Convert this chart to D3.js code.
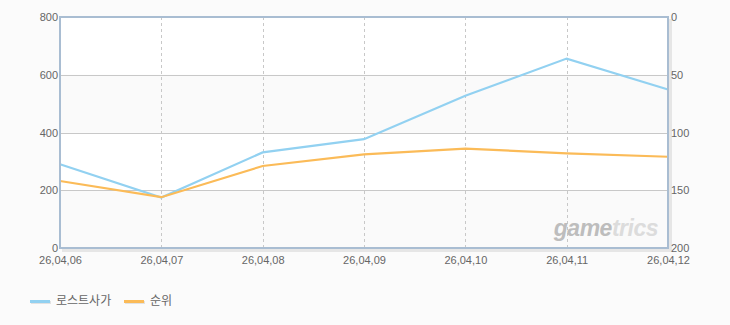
<!DOCTYPE html>
<html lang='ko'>
<head>
   <meta charset='UTF-8'>
   <title>로스트사가 순위</title>
   <script src='https://d3js.org/d3.v7.min.js'></script>
   <style>
      body { margin: 0; background: #fbfbfb; }
      svg { display: block; }
      text { font-family: 'Liberation Sans', Arial, sans-serif; }
   </style>
</head>
<body>
   <div id='chart'></div>
   <script>
      // data
      const dates = ['26,04,06', '26,04,07', '26,04,08', '26,04,09', '26,04,10', '26,04,11', '26,04,12'];
      const gameValues = [290, 175, 331, 377, 527, 656, 549];   // 로스트사가, left axis
      const rankValues = [142, 156, 129, 119, 114, 118, 121];   // 순위, right axis (reversed)
      const leftTicks = [0, 200, 400, 600, 800];
      const rightTicks = [0, 50, 100, 150, 200];
      const seriesNames = ['로스트사가', '순위'];
      const seriesColors = ['#92d1f1', '#fbbb58'];

      const W = 730, H = 325;
      const margins = { top: 17, right: 62, bottom: 77, left: 60 };
      const width = W - margins.left - margins.right;
      const height = H - margins.top - margins.bottom;

      const svg = d3.select('#chart').append('svg').attr('width', W).attr('height', H);
      svg.append('rect').attr('width', W).attr('height', H).attr('fill', '#fbfbfb');

      const g = svg.append('g').attr('transform', `translate(${margins.left}, ${margins.top})`);

      const x = d3.scalePoint().domain(dates).range([0, width]);
      const yL = d3.scaleLinear().domain([0, 800]).range([height, 0]);
      const yR = d3.scaleLinear().domain([0, 200]).range([0, height]);

      // alternating bands
      const bands = d3.pairs(leftTicks);
      g.selectAll('.band').data(bands).join('rect')
         .attr('x', 0)
         .attr('width', width)
         .attr('y', d => yL(d[1]))
         .attr('height', d => yL(d[0]) - yL(d[1]))
         .attr('fill', (d, i) => i % 2 ? '#ffffff' : '#fafafa');

      // shadow right and bottom
      g.append('rect').attr('x', width + 1).attr('y', 2).attr('width', 3).attr('height', height + 1).attr('fill', '#e6e6e6');
      g.append('rect').attr('x', 2).attr('y', height + 1).attr('width', width + 2).attr('height', 3).attr('fill', '#e6e6e6');

      // horizontal grid
      g.selectAll('.hgrid').data(leftTicks.slice(1, -1)).join('line')
         .attr('x1', 0).attr('x2', width)
         .attr('y1', d => Math.round(yL(d)) + 0.5).attr('y2', d => Math.round(yL(d)) + 0.5)
         .attr('stroke', '#c8c8c8');

      // vertical dashed grid
      g.selectAll('.vgrid').data(dates.slice(1, -1)).join('line')
         .attr('x1', d => Math.round(x(d)) + 0.5).attr('x2', d => Math.round(x(d)) + 0.5)
         .attr('y1', 0).attr('y2', height)
         .attr('stroke', '#c8c8c8')
         .attr('stroke-dasharray', '3,3');

      // watermark
      const wm = g.append('text')
         .attr('x', width - 10).attr('y', height - 12)
         .attr('text-anchor', 'end')
         .attr('font-size', '23px')
         .attr('font-weight', 'bold')
         .attr('font-style', 'italic')
         .attr('letter-spacing', '-0.5px');
      wm.append('tspan').attr('fill', '#bdbdbd').text('game');
      wm.append('tspan').attr('fill', '#dcdcdc').text('trics');

      // lines
      const lineL = d3.line().x((d, i) => x(dates[i])).y(d => yL(d));
      const lineR = d3.line().x((d, i) => x(dates[i])).y(d => yR(d));
      g.append('path').datum(gameValues).attr('d', lineL)
         .attr('fill', 'none').attr('stroke', seriesColors[0]).attr('stroke-width', 2.2);
      g.append('path').datum(rankValues).attr('d', lineR)
         .attr('fill', 'none').attr('stroke', seriesColors[1]).attr('stroke-width', 2.2);

      // frame
      g.append('rect').attr('x', 0).attr('y', 0).attr('width', width).attr('height', height)
         .attr('fill', 'none').attr('stroke', '#a9bdd2').attr('stroke-width', 2);

      // axes
      const axisStyle = sel => {
         sel.select('.domain').remove();
         sel.selectAll('.tick line').remove();
         sel.selectAll('text').attr('fill', '#666').attr('font-size', '11px')
            .style('font-family', "'Liberation Sans', Arial, sans-serif");
      };
      g.append('g').call(d3.axisLeft(yL).tickValues(leftTicks).tickSize(0).tickPadding(2)).call(axisStyle);
      g.append('g').attr('transform', `translate(${width}, 0)`)
         .call(d3.axisRight(yR).tickValues(rightTicks).tickSize(0).tickPadding(3)).call(axisStyle);
      g.append('g').attr('transform', `translate(0, ${height})`)
         .call(d3.axisBottom(x).tickSize(0).tickPadding(8)).call(axisStyle);

      // legend
      const legend = svg.append('g').attr('transform', 'translate(30, 301)');
      const items = legend.selectAll('g').data(seriesNames).join('g')
         .attr('transform', (d, i) => `translate(${i * 94}, 0)`);
      items.append('rect').attr('x', 1).attr('y', 0).attr('width', 20).attr('height', 3).attr('fill', '#e2e2e2');
      items.append('rect').attr('x', 0).attr('y', -1).attr('width', 20).attr('height', 3).attr('fill', (d, i) => seriesColors[i]);
      items.append('text').attr('x', 26).attr('y', 4)
         .attr('fill', '#666').attr('font-size', '12px')
         .style('font-family', "'Noto Sans CJK KR', sans-serif")
         .text(d => d);
   </script>
</body>
</html>
